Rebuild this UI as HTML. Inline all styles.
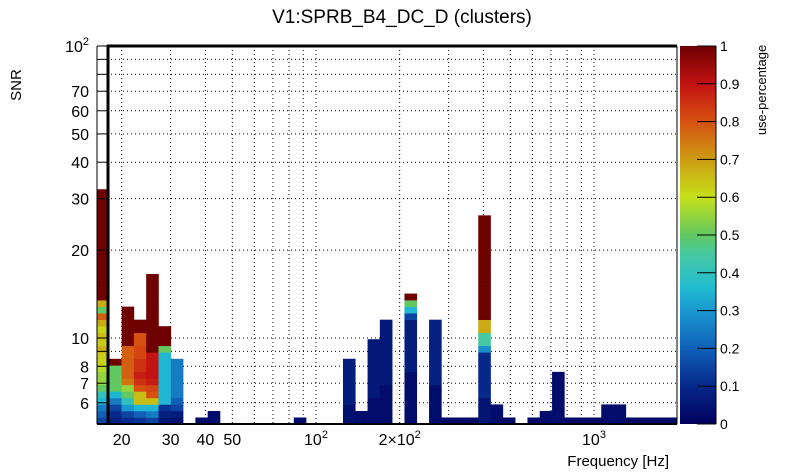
<!DOCTYPE html>
<html><head><meta charset="utf-8"><style>
body{margin:0;background:#fff}
svg{display:block;font-family:"Liberation Sans",sans-serif}
</style></head><body>
<svg id="chart" width="805" height="472" viewBox="0 0 805 472" xmlns="http://www.w3.org/2000/svg">
<defs><linearGradient id="cbar" x1="0" y1="1" x2="0" y2="0"></linearGradient></defs>
<rect width="805" height="472" fill="#fff"/>
<text x="402" y="23" font-size="19" text-anchor="middle">V1:SPRB_B4_DC_D (clusters)</text>
<g id="grid"></g>
<g id="cells"></g>
<g id="frame"></g>
<g id="colorbar"></g>
<text transform="translate(21,85) rotate(-90)" font-size="15" text-anchor="middle">SNR</text>
<text x="669" y="466" font-size="15" text-anchor="end">Frequency [Hz]</text>
<text transform="translate(766,90) rotate(-90)" font-size="13" text-anchor="middle">use-percentage</text>
</svg>
<script>
const binIndex=[0,1,2,3,4,5,6,8,9,16,20,21,22,23,25,27,28,29,30,31,32,33,35,36,37,38,39,40,41,42,43,44,45,46,47];
const columnCells=[
[[0.15,1],[0.2,1],[0.25,1],[0.35,1],[0.4,1],[0.5,1],[0.55,2],[0.58,1],[0.62,1],[0.63,1],[0.67,1],[0.63,1],[0.65,1],[0.62,1],[0.68,1],[0.78,1],[0.5,1],[0.68,1],[1,17]],
[[0.08,1],[0.1,1],[0.15,1],[0.25,1],[0.35,1],[0.5,4],[1,1]],
[[0.1,1],[0.15,1],[0.3,1],[0.4,1],[0.5,1],[0.55,1],[0.75,1],[0.78,5],[1,6]],
[[0.12,1],[0.2,1],[0.35,1],[0.65,2],[0.8,1],[0.85,1],[0.88,1],[0.85,2],[0.82,2],[0.8,2],[1,2]],
[[0.15,1],[0.25,1],[0.35,1],[0.65,1],[0.8,1],[0.82,1],[0.88,1],[0.9,4],[1,12]],
[[0.05,1],[0.08,1],[0.12,1],[0.35,8],[0.5,1],[1,3]],
[[0.04,1],[0.07,1],[0.15,1],[0.2,1],[0.25,6]],
[[0.03,1]],[[0.03,2]],[[0.03,1]],
[[0.04,3],[0.07,7]],[[0.03,2]],[[0.03,4],[0.06,9]],[[0.03,6],[0.06,10]],
[[0.03,8],[0.07,8],[0.15,1],[0.35,1],[0.5,1],[1,1]],
[[0.03,6],[0.08,10]],
[[0.02,1]],[[0.02,1]],[[0.02,1]],
[[0.05,4],[0.1,7],[0.28,1],[0.45,2],[0.68,2],[1,16]],
[[0.03,3]],[[0.02,1]],[[0.02,1]],[[0.03,2]],[[0.03,8]],
[[0.02,1]],[[0.02,1]],[[0.02,1]],[[0.03,3]],[[0.03,3]],
[[0.02,1]],[[0.02,1]],[[0.02,1]],[[0.02,1]],[[0.02,1]]
];
const xTickValues=[20,30,40,50,100,200,1000];
const xTickLabels=["20","30","40","50","10^2","2×10^2","10^3"];
const yTickValues=[6,7,8,10,20,30,40,50,60,70,100];
const yTickLabels=["6","7","8","10","20","30","40","50","60","70","10^2"];
const cbarTicks=[0,0.1,0.2,0.3,0.4,0.5,0.6,0.7,0.8,0.9,1];
const colorStops=[[0,"#00005c"],[0.1,"#06288a"],[0.2,"#1060b8"],[0.3,"#1a98d0"],[0.36,"#22bcd2"],[0.45,"#46c8a0"],[0.5,"#62c862"],[0.6,"#c6e01a"],[0.7,"#cc9c12"],[0.8,"#d65012"],[0.9,"#c21212"],[1,"#6e0000"]];

const NS="http://www.w3.org/2000/svg";
const PL=97,PR=677,PT=46,PB=424;
const X=f=>316+278*Math.log10(f/100);
const Y=s=>338-292*Math.log10(s/10);
const LF0=1.2122,DLF=0.04424,LS0=0.7055,DLS=0.02233;
function mk(tag,attrs,parent){const e=document.createElementNS(NS,tag);for(const k in attrs)e.setAttribute(k,attrs[k]);parent.appendChild(e);return e;}
function hex(c){return [1,3,5].map(i=>parseInt(c.substr(i,2),16));}
function color(v){for(let i=1;i<colorStops.length;i++){if(v<=colorStops[i][0]){const a=colorStops[i-1],b=colorStops[i];const t=(v-a[0])/(b[0]-a[0]);const ca=hex(a[1]),cb=hex(b[1]);return "rgb("+ca.map((x,j)=>Math.round(x+(cb[j]-x)*t)).join(",")+")";}}return colorStops[colorStops.length-1][1];}

const grid=document.getElementById('grid');
const gx=[];for(let d=10;d<=1000;d*=10)for(let m=1;m<=9;m++){const f=m*d;if(X(f)>PL+2&&X(f)<PR-1)gx.push(f);}
gx.forEach(f=>{const l=mk('line',{x1:X(f),x2:X(f),y1:PT,y2:PB,stroke:'#000','stroke-width':1,'stroke-dasharray':'1,3'},grid);

});
const gy=[6,7,8,9,10,20,30,40,50,60,70,80,90];
gy.forEach(s=>{const l=mk('line',{x1:PL+10,x2:PR,y1:Y(s),y2:Y(s),stroke:'#000','stroke-width':1,'stroke-dasharray':'1,3'},grid);

});

const cells=document.getElementById('cells');
binIndex.forEach((bi,k)=>{
  const x0=X(Math.pow(10,LF0+DLF*bi)),x1=Math.min(PR,X(Math.pow(10,LF0+DLF*(bi+1))));
  let row=0;
  columnCells[k].forEach(([v,n])=>{
    for(let r=0;r<n;r++){
      const y0=Y(Math.pow(10,LS0+DLS*(row+1))),y1=Y(Math.pow(10,LS0+DLS*row));
      const c=mk('rect',{x:x0,y:y0,width:x1-x0+0.3,height:y1-y0+0.3,fill:color(v)},cells);
      
      
      row++;
    }
  });
});

const fr=document.getElementById('frame');
mk('line',{x1:PL,x2:PL,y1:PT,y2:PB,stroke:'#000','stroke-width':1},fr);
mk('line',{x1:PL,x2:PR,y1:PB,y2:PB,stroke:'#000','stroke-width':2},fr);
mk('line',{x1:PR,x2:PR,y1:PT,y2:PB,stroke:'#000','stroke-width':1},fr);
mk('line',{x1:108,x2:108,y1:PT-1,y2:PB,stroke:'#000','stroke-width':3},fr);
mk('line',{x1:107,x2:PR,y1:PT,y2:PT,stroke:'#000','stroke-width':3},fr);
gy.concat([100]).forEach(s=>mk('line',{x1:PL,x2:107,y1:Y(s),y2:Y(s),stroke:'#000','stroke-width':1},fr));
yTickValues.forEach((s,i)=>{
  const lab=yTickLabels[i];const t=mk('text',{x:89,y:Y(s)+6,'font-size':16,'text-anchor':'end'},fr);
  
  
  if(lab.includes('^')){const p=lab.split('^');t.textContent=p[0];const sp=mk('tspan',{'font-size':11,dy:-7},t);sp.textContent=p[1];}else t.textContent=lab;
});
xTickValues.forEach((f,i)=>{
  const lab=xTickLabels[i];const t=mk('text',{x:X(f),y:445,'font-size':16,'text-anchor':'middle'},fr);
  
  
  if(lab.includes('^')){const p=lab.split('^');t.textContent=p[0];const sp=mk('tspan',{'font-size':11,dy:-7},t);sp.textContent=p[1];}else t.textContent=lab;
});

const cb=document.getElementById('colorbar');
const grad=document.getElementById('cbar');
colorStops.forEach(([o,c])=>mk('stop',{offset:o,'stop-color':c},grad));
const cbr=mk('rect',{x:680,y:PT,width:36,height:PB-PT,fill:'url(#cbar)'},cb);


mk('line',{x1:716,x2:716,y1:PT,y2:PB,stroke:'#000','stroke-width':1},cb);
cbarTicks.forEach(v=>{const y=PB-(PB-PT)*v;
  mk('line',{x1:697,x2:716,y1:y,y2:y,stroke:'#000','stroke-width':1},cb);
  const t=mk('text',{x:720,y:y+5,'font-size':14},cb);t.textContent=String(v);
  
  
});
</script>
</body></html>
